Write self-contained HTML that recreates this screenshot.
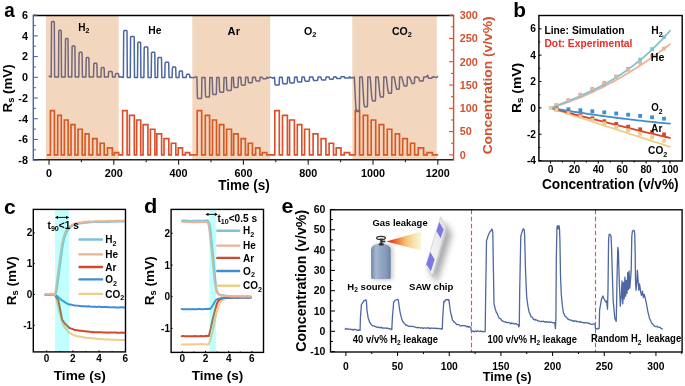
<!DOCTYPE html>
<html><head><meta charset="utf-8"><style>
html,body{margin:0;padding:0;background:#fff;overflow:hidden}
svg{display:block;filter:blur(0.3px)}
text{font-family:"Liberation Sans", sans-serif}
</style></head><body>
<svg width="685" height="386" viewBox="0 0 685 386">
<rect width="685" height="386" fill="#fff"/>
<defs><clipPath id="ca"><rect x="33.3" y="15.5" width="420.3" height="144.3"/></clipPath></defs>
<polyline points="47.50,154.90 50.40,154.90 50.40,110.65 54.40,110.65 54.40,154.90 57.70,154.90 57.70,115.31 61.30,115.31 61.30,154.90 64.40,154.90 64.40,119.97 68.10,119.97 68.10,154.90 71.00,154.90 71.00,124.62 75.00,124.62 75.00,154.90 78.00,154.90 78.00,129.28 82.20,129.28 82.20,154.90 85.10,154.90 85.10,133.94 89.00,133.94 89.00,154.90 92.70,154.90 92.70,138.60 97.00,138.60 97.00,154.90 100.20,154.90 100.20,143.25 104.20,143.25 104.20,154.90 107.50,154.90 107.50,147.91 112.30,147.91 112.30,154.90 114.40,154.90 114.40,152.57 118.70,152.57 118.70,154.90 122.60,154.90 122.60,110.65 127.10,110.65 127.10,154.90 129.50,154.90 129.50,115.31 134.30,115.31 134.30,154.90 136.70,154.90 136.70,119.97 140.70,119.97 140.70,154.90 143.10,154.90 143.10,124.62 147.90,124.62 147.90,154.90 150.40,154.90 150.40,129.28 154.90,129.28 154.90,154.90 156.80,154.90 156.80,133.94 161.60,133.94 161.60,154.90 164.00,154.90 164.00,138.60 168.80,138.60 168.80,154.90 171.30,154.90 171.30,143.25 175.80,143.25 175.80,154.90 178.20,154.90 178.20,147.91 182.50,147.91 182.50,154.90 185.40,154.90 185.40,152.57 189.70,152.57 189.70,154.90 197.20,154.90 197.20,110.65 201.70,110.65 201.70,154.90 205.30,154.90 205.30,115.31 209.60,115.31 209.60,154.90 212.50,154.90 212.50,119.97 216.50,119.97 216.50,154.90 219.40,154.90 219.40,124.62 223.80,124.62 223.80,154.90 226.60,154.90 226.60,129.28 231.50,129.28 231.50,154.90 233.70,154.90 233.70,133.94 238.20,133.94 238.20,154.90 241.10,154.90 241.10,138.60 245.40,138.60 245.40,154.90 248.20,154.90 248.20,143.25 252.40,143.25 252.40,154.90 255.60,154.90 255.60,147.91 259.90,147.91 259.90,154.90 262.30,154.90 262.30,152.57 266.80,152.57 266.80,154.90 274.80,154.90 274.80,110.65 279.30,110.65 279.30,154.90 282.50,154.90 282.50,115.31 287.40,115.31 287.40,154.90 289.60,154.90 289.60,119.97 294.40,119.97 294.40,154.90 297.30,154.90 297.30,124.62 301.80,124.62 301.80,154.90 304.60,154.90 304.60,129.28 309.40,129.28 309.40,154.90 313.10,154.90 313.10,133.94 317.90,133.94 317.90,154.90 321.10,154.90 321.10,138.60 325.90,138.60 325.90,154.90 329.10,154.90 329.10,143.25 333.50,143.25 333.50,154.90 336.20,154.90 336.20,147.91 341.00,147.91 341.00,154.90 344.30,154.90 344.30,152.57 349.60,152.57 349.60,154.90 355.30,154.90 355.30,110.65 359.60,110.65 359.60,154.90 363.30,154.90 363.30,115.31 367.70,115.31 367.70,154.90 371.20,154.90 371.20,119.97 375.70,119.97 375.70,154.90 379.20,154.90 379.20,124.62 383.70,124.62 383.70,154.90 387.30,154.90 387.30,129.28 391.80,129.28 391.80,154.90 395.30,154.90 395.30,133.94 399.50,133.94 399.50,154.90 402.70,154.90 402.70,138.60 407.30,138.60 407.30,154.90 410.50,154.90 410.50,143.25 414.60,143.25 414.60,154.90 418.20,154.90 418.20,147.91 423.60,147.91 423.60,154.90 427.10,154.90 427.10,152.57 432.40,152.57 432.40,154.90 437.50,154.90" fill="none" stroke="#dc4f28" stroke-width="1.65" stroke-linejoin="miter" stroke-linecap="round" />
<g clip-path="url(#ca)">
<polyline points="49.20,76.20 50.50,77.00 51.20,77.00 51.50,22.50 51.90,21.60 54.00,21.60 54.30,22.50 54.60,77.00 58.50,77.00 58.80,31.20 59.20,30.30 60.90,30.30 61.20,31.20 61.50,77.00 65.20,77.00 65.50,39.30 65.90,38.40 67.70,38.40 68.00,39.30 68.30,77.00 71.80,77.00 72.10,46.80 72.50,45.90 74.60,45.90 74.90,46.80 75.20,77.00 78.80,77.00 79.10,53.20 79.50,52.30 81.80,52.30 82.10,53.20 82.40,77.00 85.90,77.00 86.20,58.40 86.60,57.50 88.60,57.50 88.90,58.40 89.20,77.00 93.50,77.00 93.80,64.10 94.20,63.20 96.60,63.20 96.90,64.10 97.20,77.00 101.00,77.00 101.30,68.40 101.70,67.50 103.80,67.50 104.10,68.40 104.40,77.00 108.30,77.00 108.60,72.30 109.00,71.40 111.90,71.40 112.20,72.30 112.50,77.00 115.20,77.00 115.50,74.50 115.90,73.60 118.30,73.60 118.60,74.50 118.90,77.00 119.90,76.69 121.40,77.05 123.40,77.50 123.70,31.50 124.10,30.60 126.70,30.60 127.00,31.50 127.30,77.50 130.30,77.50 130.60,37.30 131.00,36.40 133.90,36.40 134.20,37.30 134.50,77.50 137.50,77.50 137.80,43.10 138.20,42.20 140.30,42.20 140.60,43.10 140.90,77.50 143.90,77.50 144.20,48.00 144.60,47.10 147.50,47.10 147.80,48.00 148.10,77.50 151.20,77.50 151.50,53.20 151.90,52.30 154.50,52.30 154.80,53.20 155.10,77.50 157.60,77.50 157.90,58.30 158.30,57.40 161.20,57.40 161.50,58.30 161.80,77.50 164.80,77.50 165.10,63.10 165.50,62.20 168.40,62.20 168.70,63.10 169.00,77.50 172.10,77.50 172.40,68.00 172.80,67.10 175.40,67.10 175.70,68.00 176.00,77.50 179.00,77.50 179.30,71.90 179.70,71.00 182.10,71.00 182.40,71.90 182.70,77.50 186.20,77.50 186.50,75.20 186.90,74.30 189.30,74.30 189.60,75.20 189.90,77.50 190.90,77.34 192.40,77.62 193.90,77.65 195.40,76.98 196.90,76.92 196.90,77.60 197.40,97.60 198.00,98.60 201.20,98.60 201.60,97.70 201.90,77.60 205.00,77.55 205.50,96.10 206.10,97.10 209.10,97.10 209.50,96.20 209.80,77.55 212.20,77.50 212.70,93.50 213.30,94.50 216.00,94.50 216.40,93.60 216.70,77.50 219.10,77.45 219.60,91.20 220.20,92.20 223.30,92.20 223.70,91.30 224.00,77.45 226.30,77.40 226.80,89.40 227.40,90.40 231.00,90.40 231.40,89.50 231.70,77.40 233.40,77.35 233.90,86.50 234.50,87.50 237.70,87.50 238.10,86.60 238.40,77.35 240.80,77.30 241.30,84.20 241.90,85.20 244.90,85.20 245.30,84.30 245.60,77.30 247.90,77.25 248.40,81.80 249.00,82.80 251.90,82.80 252.30,81.90 252.60,77.25 255.30,77.20 255.80,80.10 256.40,81.10 259.40,81.10 259.80,80.20 260.10,77.20 262.00,77.15 262.50,77.80 263.10,78.80 266.30,78.80 266.70,77.90 267.00,77.15 268.00,78.00 269.50,77.31 271.00,77.28 272.50,78.19 274.00,77.56 274.50,77.30 275.00,84.10 275.60,85.10 278.80,85.10 279.20,84.20 279.50,77.30 282.20,77.24 282.70,82.80 283.30,83.80 286.90,83.80 287.30,82.90 287.60,77.24 289.30,77.18 289.80,81.90 290.40,82.90 293.90,82.90 294.30,82.00 294.60,77.18 297.00,77.12 297.50,81.10 298.10,82.10 301.30,82.10 301.70,81.20 302.00,77.12 304.30,77.06 304.80,80.20 305.40,81.20 308.90,81.20 309.30,80.30 309.60,77.06 312.80,77.00 313.30,79.50 313.90,80.50 317.40,80.50 317.80,79.60 318.10,77.00 320.80,76.94 321.30,78.90 321.90,79.90 325.40,79.90 325.80,79.00 326.10,76.94 328.80,76.88 329.30,78.20 329.90,79.20 333.00,79.20 333.40,78.30 333.70,76.88 335.90,76.82 336.40,77.50 337.00,78.50 340.50,78.50 340.90,77.60 341.20,76.82 344.00,76.76 344.50,77.00 345.10,78.00 349.10,78.00 349.50,77.10 349.80,76.76 350.80,77.90 352.30,77.47 353.80,77.67 354.30,77.10 355.90,108.50 356.70,111.50 359.00,111.50 359.40,110.30 359.70,77.10 362.30,77.10 363.90,103.70 364.70,106.70 367.10,106.70 367.50,105.50 367.80,77.10 370.20,77.10 371.80,97.90 372.60,100.90 375.10,100.90 375.50,99.70 375.80,77.10 378.20,77.10 379.80,94.00 380.60,97.00 383.10,97.00 383.50,95.80 383.80,77.10 386.30,77.10 387.90,90.30 388.70,93.30 391.20,93.30 391.60,92.10 391.90,77.10 394.30,77.10 395.90,86.30 396.70,89.30 398.90,89.30 399.30,88.10 399.60,77.10 401.70,77.10 403.30,82.90 404.10,85.90 406.70,85.90 407.10,84.70 407.40,77.10 409.50,77.10 411.10,80.60 411.90,83.60 414.00,83.60 414.40,82.40 414.70,77.10 417.20,77.10 418.80,77.90 419.60,80.90 423.00,80.90 423.40,79.70 423.70,77.10 426.10,77.10 427.70,75.30 428.50,78.30 431.80,78.30 432.20,77.10 432.50,77.10 433.60,76.68 435.10,77.26 436.60,77.54 437.50,76.60" fill="none" stroke="#4a66a3" stroke-width="1.5" stroke-linejoin="round" stroke-linecap="round" />
</g>
<rect x="46.0" y="15.5" width="72.7" height="144.3" fill="rgba(212,108,23,0.28)"/>
<rect x="192.3" y="15.5" width="77.9" height="144.3" fill="rgba(212,108,23,0.28)"/>
<rect x="352.3" y="15.5" width="84.5" height="144.3" fill="rgba(212,108,23,0.28)"/>
<text x="78.15" y="30.90" font-size="11.2" font-weight="bold" fill="#000" textLength="11.14" lengthAdjust="spacingAndGlyphs" >H<tspan font-size="7.84" dy="2.46">2</tspan></text>
<text x="148.23" y="33.80" font-size="11.2" font-weight="bold" fill="#000" textLength="13.16" lengthAdjust="spacingAndGlyphs" >He</text>
<text x="227.62" y="34.70" font-size="11.2" font-weight="bold" fill="#000" textLength="12.36" lengthAdjust="spacingAndGlyphs" >Ar</text>
<text x="303.97" y="34.60" font-size="11.2" font-weight="bold" fill="#000" textLength="12.43" lengthAdjust="spacingAndGlyphs" >O<tspan font-size="7.84" dy="2.46">2</tspan></text>
<text x="391.98" y="34.80" font-size="11.2" font-weight="bold" fill="#000" textLength="19.93" lengthAdjust="spacingAndGlyphs" >CO<tspan font-size="7.84" dy="2.46">2</tspan></text>
<line x1="33.30" y1="15.50" x2="453.60" y2="15.50" stroke="#000" stroke-width="1.45" />
<line x1="33.30" y1="159.80" x2="453.60" y2="159.80" stroke="#222" stroke-width="1.45" />
<line x1="33.30" y1="14.80" x2="33.30" y2="160.50" stroke="#4a66a3" stroke-width="1.4" />
<line x1="453.60" y1="14.80" x2="453.60" y2="160.50" stroke="#d4502c" stroke-width="1.4" />
<line x1="33.30" y1="160.18" x2="37.80" y2="160.18" stroke="#4a66a3" stroke-width="1.1" />
<text x="27.9" y="163.98000000000002" font-size="10.8" font-weight="bold" fill="#000" text-anchor="end" >-8</text>
<line x1="33.30" y1="149.82" x2="35.80" y2="149.82" stroke="#4a66a3" stroke-width="1.1" />
<line x1="33.30" y1="139.46" x2="37.80" y2="139.46" stroke="#4a66a3" stroke-width="1.1" />
<text x="27.9" y="143.26" font-size="10.8" font-weight="bold" fill="#000" text-anchor="end" >-6</text>
<line x1="33.30" y1="129.10" x2="35.80" y2="129.10" stroke="#4a66a3" stroke-width="1.1" />
<line x1="33.30" y1="118.74" x2="37.80" y2="118.74" stroke="#4a66a3" stroke-width="1.1" />
<text x="27.9" y="122.53999999999999" font-size="10.8" font-weight="bold" fill="#000" text-anchor="end" >-4</text>
<line x1="33.30" y1="108.38" x2="35.80" y2="108.38" stroke="#4a66a3" stroke-width="1.1" />
<line x1="33.30" y1="98.02" x2="37.80" y2="98.02" stroke="#4a66a3" stroke-width="1.1" />
<text x="27.9" y="101.82" font-size="10.8" font-weight="bold" fill="#000" text-anchor="end" >-2</text>
<line x1="33.30" y1="87.66" x2="35.80" y2="87.66" stroke="#4a66a3" stroke-width="1.1" />
<line x1="33.30" y1="77.30" x2="37.80" y2="77.30" stroke="#4a66a3" stroke-width="1.1" />
<text x="27.9" y="81.1" font-size="10.8" font-weight="bold" fill="#000" text-anchor="end" >0</text>
<line x1="33.30" y1="66.94" x2="35.80" y2="66.94" stroke="#4a66a3" stroke-width="1.1" />
<line x1="33.30" y1="56.58" x2="37.80" y2="56.58" stroke="#4a66a3" stroke-width="1.1" />
<text x="27.9" y="60.379999999999995" font-size="10.8" font-weight="bold" fill="#000" text-anchor="end" >2</text>
<line x1="33.30" y1="46.22" x2="35.80" y2="46.22" stroke="#4a66a3" stroke-width="1.1" />
<line x1="33.30" y1="35.86" x2="37.80" y2="35.86" stroke="#4a66a3" stroke-width="1.1" />
<text x="27.9" y="39.66" font-size="10.8" font-weight="bold" fill="#000" text-anchor="end" >4</text>
<line x1="33.30" y1="25.50" x2="35.80" y2="25.50" stroke="#4a66a3" stroke-width="1.1" />
<line x1="33.30" y1="15.14" x2="37.80" y2="15.14" stroke="#4a66a3" stroke-width="1.1" />
<text x="27.9" y="18.94" font-size="10.8" font-weight="bold" fill="#000" text-anchor="end" >6</text>
<line x1="449.10" y1="154.90" x2="453.60" y2="154.90" stroke="#d4502c" stroke-width="1.1" />
<text x="459.7" y="158.70000000000002" font-size="10.8" font-weight="bold" fill="#d4502c" text-anchor="start" >0</text>
<line x1="451.10" y1="143.25" x2="453.60" y2="143.25" stroke="#d4502c" stroke-width="1.1" />
<line x1="449.10" y1="131.61" x2="453.60" y2="131.61" stroke="#d4502c" stroke-width="1.1" />
<text x="459.7" y="135.41000000000003" font-size="10.8" font-weight="bold" fill="#d4502c" text-anchor="start" >50</text>
<line x1="451.10" y1="119.97" x2="453.60" y2="119.97" stroke="#d4502c" stroke-width="1.1" />
<line x1="449.10" y1="108.32" x2="453.60" y2="108.32" stroke="#d4502c" stroke-width="1.1" />
<text x="459.7" y="112.12" font-size="10.8" font-weight="bold" fill="#d4502c" text-anchor="start" >100</text>
<line x1="451.10" y1="96.68" x2="453.60" y2="96.68" stroke="#d4502c" stroke-width="1.1" />
<line x1="449.10" y1="85.03" x2="453.60" y2="85.03" stroke="#d4502c" stroke-width="1.1" />
<text x="459.7" y="88.83" font-size="10.8" font-weight="bold" fill="#d4502c" text-anchor="start" >150</text>
<line x1="451.10" y1="73.39" x2="453.60" y2="73.39" stroke="#d4502c" stroke-width="1.1" />
<line x1="449.10" y1="61.74" x2="453.60" y2="61.74" stroke="#d4502c" stroke-width="1.1" />
<text x="459.7" y="65.54" font-size="10.8" font-weight="bold" fill="#d4502c" text-anchor="start" >200</text>
<line x1="451.10" y1="50.10" x2="453.60" y2="50.10" stroke="#d4502c" stroke-width="1.1" />
<line x1="449.10" y1="38.45" x2="453.60" y2="38.45" stroke="#d4502c" stroke-width="1.1" />
<text x="459.7" y="42.25" font-size="10.8" font-weight="bold" fill="#d4502c" text-anchor="start" >250</text>
<line x1="451.10" y1="26.81" x2="453.60" y2="26.81" stroke="#d4502c" stroke-width="1.1" />
<line x1="449.10" y1="15.16" x2="453.60" y2="15.16" stroke="#d4502c" stroke-width="1.1" />
<text x="459.7" y="18.959999999999997" font-size="10.8" font-weight="bold" fill="#d4502c" text-anchor="start" >300</text>
<line x1="49.00" y1="159.80" x2="49.00" y2="164.80" stroke="#222" stroke-width="1.1" />
<text x="49.0" y="177.3" font-size="10.8" font-weight="bold" fill="#000" text-anchor="middle" >0</text>
<line x1="81.40" y1="159.80" x2="81.40" y2="162.30" stroke="#222" stroke-width="1.1" />
<line x1="113.80" y1="159.80" x2="113.80" y2="164.80" stroke="#222" stroke-width="1.1" />
<text x="113.8" y="177.3" font-size="10.8" font-weight="bold" fill="#000" text-anchor="middle" >200</text>
<line x1="146.20" y1="159.80" x2="146.20" y2="162.30" stroke="#222" stroke-width="1.1" />
<line x1="178.60" y1="159.80" x2="178.60" y2="164.80" stroke="#222" stroke-width="1.1" />
<text x="178.6" y="177.3" font-size="10.8" font-weight="bold" fill="#000" text-anchor="middle" >400</text>
<line x1="211.00" y1="159.80" x2="211.00" y2="162.30" stroke="#222" stroke-width="1.1" />
<line x1="243.40" y1="159.80" x2="243.40" y2="164.80" stroke="#222" stroke-width="1.1" />
<text x="243.4" y="177.3" font-size="10.8" font-weight="bold" fill="#000" text-anchor="middle" >600</text>
<line x1="275.80" y1="159.80" x2="275.80" y2="162.30" stroke="#222" stroke-width="1.1" />
<line x1="308.20" y1="159.80" x2="308.20" y2="164.80" stroke="#222" stroke-width="1.1" />
<text x="308.2" y="177.3" font-size="10.8" font-weight="bold" fill="#000" text-anchor="middle" >800</text>
<line x1="340.60" y1="159.80" x2="340.60" y2="162.30" stroke="#222" stroke-width="1.1" />
<line x1="373.00" y1="159.80" x2="373.00" y2="164.80" stroke="#222" stroke-width="1.1" />
<text x="373.0" y="177.3" font-size="10.8" font-weight="bold" fill="#000" text-anchor="middle" >1000</text>
<line x1="405.40" y1="159.80" x2="405.40" y2="162.30" stroke="#222" stroke-width="1.1" />
<line x1="437.80" y1="159.80" x2="437.80" y2="164.80" stroke="#222" stroke-width="1.1" />
<text x="437.8" y="177.3" font-size="10.8" font-weight="bold" fill="#000" text-anchor="middle" >1200</text>
<text x="218.26" y="190.00" font-size="13.9" font-weight="bold" fill="#000" textLength="51.56" lengthAdjust="spacingAndGlyphs" >Time (s)</text>
<text transform="translate(11.50,112.47) rotate(-90)" x="0" y="0" font-size="13.0" font-weight="bold" fill="#000" textLength="48.13" lengthAdjust="spacingAndGlyphs">R<tspan font-size="9.10" dy="2.86">s</tspan><tspan dy="-2.86"> (mV)</tspan></text>
<text transform="translate(492.40,154.35) rotate(-90)" x="0" y="0" font-size="13.7" font-weight="bold" fill="#d4502c" textLength="137.99" lengthAdjust="spacingAndGlyphs">Concentration (v/v%)</text>
<text x="4.33" y="16.50" font-size="20.5" font-weight="bold" fill="#000" textLength="10.49" lengthAdjust="spacingAndGlyphs" >a</text>
<polyline points="550.50,107.90 553.49,108.89 556.48,109.88 559.46,110.86 562.45,111.85 565.44,112.83 568.42,113.82 571.41,114.80 574.40,115.78 577.39,116.76 580.38,117.74 583.36,118.72 586.35,119.70 589.34,120.68 592.33,121.66 595.31,122.63 598.30,123.61 601.29,124.59 604.27,125.56 607.26,126.53 610.25,127.51 613.24,128.48 616.23,129.45 619.21,130.42 622.20,131.39 625.19,132.36 628.17,133.32 631.16,134.29 634.15,135.26 637.14,136.22 640.12,137.18 643.11,138.15 646.10,139.11 649.09,140.07 652.08,141.03 655.06,141.99 658.05,142.95 661.04,143.91 664.02,144.87 667.01,145.83 670.00,146.78" fill="none" stroke="#eecd88" stroke-width="1.8" stroke-linejoin="round" stroke-linecap="round" />
<polyline points="550.50,107.90 553.49,108.71 556.48,109.51 559.46,110.31 562.45,111.11 565.44,111.90 568.42,112.69 571.41,113.48 574.40,114.27 577.39,115.05 580.38,115.83 583.36,116.61 586.35,117.39 589.34,118.16 592.33,118.93 595.31,119.69 598.30,120.46 601.29,121.22 604.27,121.98 607.26,122.73 610.25,123.49 613.24,124.24 616.23,124.98 619.21,125.73 622.20,126.47 625.19,127.21 628.17,127.94 631.16,128.68 634.15,129.41 637.14,130.13 640.12,130.86 643.11,131.58 646.10,132.30 649.09,133.02 652.08,133.73 655.06,134.44 658.05,135.15 661.04,135.85 664.02,136.55 667.01,137.25 670.00,137.95" fill="none" stroke="#d5472c" stroke-width="1.8" stroke-linejoin="round" stroke-linecap="round" />
<polyline points="550.50,107.90 553.49,108.41 556.48,108.91 559.46,109.41 562.45,109.90 565.44,110.38 568.42,110.86 571.41,111.33 574.40,111.80 577.39,112.26 580.38,112.72 583.36,113.17 586.35,113.61 589.34,114.05 592.33,114.49 595.31,114.91 598.30,115.33 601.29,115.75 604.27,116.16 607.26,116.56 610.25,116.96 613.24,117.35 616.23,117.74 619.21,118.12 622.20,118.50 625.19,118.87 628.17,119.23 631.16,119.59 634.15,119.94 637.14,120.29 640.12,120.63 643.11,120.96 646.10,121.29 649.09,121.61 652.08,121.93 655.06,122.24 658.05,122.55 661.04,122.85 664.02,123.14 667.01,123.43 670.00,123.72" fill="none" stroke="#3f8ed3" stroke-width="1.8" stroke-linejoin="round" stroke-linecap="round" />
<polyline points="550.50,107.90 553.49,107.01 556.48,106.08 559.46,105.12 562.45,104.12 565.44,103.08 568.42,102.01 571.41,100.90 574.40,99.76 577.39,98.58 580.38,97.36 583.36,96.11 586.35,94.82 589.34,93.50 592.33,92.14 595.31,90.74 598.30,89.31 601.29,87.84 604.27,86.34 607.26,84.80 610.25,83.22 613.24,81.61 616.23,79.96 619.21,78.28 622.20,76.56 625.19,74.80 628.17,73.01 631.16,71.18 634.15,69.32 637.14,67.42 640.12,65.48 643.11,63.51 646.10,61.50 649.09,59.46 652.08,57.38 655.06,55.26 658.05,53.11 661.04,50.92 664.02,48.69 667.01,46.43 670.00,44.14" fill="none" stroke="#eab398" stroke-width="1.8" stroke-linejoin="round" stroke-linecap="round" />
<polyline points="550.50,107.90 553.49,106.78 556.48,105.64 559.46,104.50 562.45,103.35 565.44,102.17 568.42,100.99 571.41,99.78 574.40,98.54 577.39,97.28 580.38,96.00 583.36,94.68 586.35,93.32 589.34,91.93 592.33,90.50 595.31,89.03 598.30,87.52 601.29,85.95 604.27,84.34 607.26,82.67 610.25,80.95 613.24,79.17 616.23,77.33 619.21,75.42 622.20,73.45 625.19,71.41 628.17,69.30 631.16,67.12 634.15,64.86 637.14,62.52 640.12,60.09 643.11,57.59 646.10,54.99 649.09,52.31 652.08,49.53 655.06,46.65 658.05,43.68 661.04,40.61 664.02,37.44 667.01,34.16 670.00,30.77" fill="none" stroke="#7fc3d3" stroke-width="1.8" stroke-linejoin="round" stroke-linecap="round" />
<rect x="554.58" y="103.34" width="3.8" height="3.8" fill="#7fc3d3"/>
<rect x="566.52" y="98.69" width="3.8" height="3.8" fill="#7fc3d3"/>
<rect x="578.48" y="93.70" width="3.8" height="3.8" fill="#7fc3d3"/>
<rect x="590.43" y="88.20" width="3.8" height="3.8" fill="#7fc3d3"/>
<rect x="602.38" y="82.04" width="3.8" height="3.8" fill="#7fc3d3"/>
<rect x="614.33" y="75.03" width="3.8" height="3.8" fill="#7fc3d3"/>
<rect x="626.27" y="67.00" width="3.8" height="3.8" fill="#7fc3d3"/>
<rect x="638.23" y="57.79" width="3.8" height="3.8" fill="#7fc3d3"/>
<rect x="650.18" y="47.23" width="3.8" height="3.8" fill="#7fc3d3"/>
<rect x="662.12" y="35.14" width="3.8" height="3.8" fill="#7fc3d3"/>
<rect x="554.58" y="103.46" width="3.8" height="3.8" fill="#eab398"/>
<rect x="566.52" y="98.19" width="3.8" height="3.8" fill="#eab398"/>
<rect x="578.48" y="92.66" width="3.8" height="3.8" fill="#eab398"/>
<rect x="590.43" y="86.86" width="3.8" height="3.8" fill="#eab398"/>
<rect x="602.38" y="80.79" width="3.8" height="3.8" fill="#eab398"/>
<rect x="614.33" y="74.47" width="3.8" height="3.8" fill="#eab398"/>
<rect x="626.27" y="67.88" width="3.8" height="3.8" fill="#eab398"/>
<rect x="638.23" y="61.02" width="3.8" height="3.8" fill="#eab398"/>
<rect x="650.18" y="53.91" width="3.8" height="3.8" fill="#eab398"/>
<rect x="662.12" y="46.53" width="3.8" height="3.8" fill="#eab398"/>
<rect x="554.58" y="106.44" width="3.8" height="3.8" fill="#3f8ed3"/>
<rect x="566.52" y="107.35" width="3.8" height="3.8" fill="#3f8ed3"/>
<rect x="578.48" y="108.32" width="3.8" height="3.8" fill="#3f8ed3"/>
<rect x="590.43" y="109.35" width="3.8" height="3.8" fill="#3f8ed3"/>
<rect x="602.38" y="110.44" width="3.8" height="3.8" fill="#3f8ed3"/>
<rect x="614.33" y="111.59" width="3.8" height="3.8" fill="#3f8ed3"/>
<rect x="626.27" y="112.79" width="3.8" height="3.8" fill="#3f8ed3"/>
<rect x="638.23" y="114.06" width="3.8" height="3.8" fill="#3f8ed3"/>
<rect x="650.18" y="115.38" width="3.8" height="3.8" fill="#3f8ed3"/>
<rect x="662.12" y="116.76" width="3.8" height="3.8" fill="#3f8ed3"/>
<rect x="554.58" y="107.54" width="3.8" height="3.8" fill="#d5472c"/>
<rect x="566.52" y="110.57" width="3.8" height="3.8" fill="#d5472c"/>
<rect x="578.48" y="113.54" width="3.8" height="3.8" fill="#d5472c"/>
<rect x="590.43" y="116.44" width="3.8" height="3.8" fill="#d5472c"/>
<rect x="602.38" y="119.27" width="3.8" height="3.8" fill="#d5472c"/>
<rect x="614.33" y="122.04" width="3.8" height="3.8" fill="#d5472c"/>
<rect x="626.27" y="124.74" width="3.8" height="3.8" fill="#d5472c"/>
<rect x="638.23" y="127.38" width="3.8" height="3.8" fill="#d5472c"/>
<rect x="650.18" y="129.95" width="3.8" height="3.8" fill="#d5472c"/>
<rect x="662.12" y="132.45" width="3.8" height="3.8" fill="#d5472c"/>
<rect x="554.58" y="107.73" width="3.8" height="3.8" fill="#eecd88"/>
<rect x="566.52" y="111.18" width="3.8" height="3.8" fill="#eecd88"/>
<rect x="578.48" y="114.63" width="3.8" height="3.8" fill="#eecd88"/>
<rect x="590.43" y="118.09" width="3.8" height="3.8" fill="#eecd88"/>
<rect x="602.38" y="121.54" width="3.8" height="3.8" fill="#eecd88"/>
<rect x="614.33" y="124.99" width="3.8" height="3.8" fill="#eecd88"/>
<rect x="626.27" y="128.45" width="3.8" height="3.8" fill="#eecd88"/>
<rect x="638.23" y="131.90" width="3.8" height="3.8" fill="#eecd88"/>
<rect x="650.18" y="135.35" width="3.8" height="3.8" fill="#eecd88"/>
<rect x="662.12" y="138.81" width="3.8" height="3.8" fill="#eecd88"/>
<rect x="548.70" y="106.10" width="3.6" height="3.6" fill="#eecd88"/>
<rect x="538.9" y="15.5" width="143.3" height="145.5" fill="none" stroke="#000" stroke-width="1.4"/>
<line x1="538.90" y1="160.62" x2="541.50" y2="160.62" stroke="#000" stroke-width="1.0" />
<text x="536.0" y="164.22" font-size="10.2" font-weight="bold" fill="#000" text-anchor="end" >-4</text>
<line x1="538.90" y1="147.44" x2="540.20" y2="147.44" stroke="#000" stroke-width="1.0" />
<line x1="538.90" y1="134.26" x2="541.50" y2="134.26" stroke="#000" stroke-width="1.0" />
<text x="536.0" y="137.85999999999999" font-size="10.2" font-weight="bold" fill="#000" text-anchor="end" >-2</text>
<line x1="538.90" y1="121.08" x2="540.20" y2="121.08" stroke="#000" stroke-width="1.0" />
<line x1="538.90" y1="107.90" x2="541.50" y2="107.90" stroke="#000" stroke-width="1.0" />
<text x="536.0" y="111.5" font-size="10.2" font-weight="bold" fill="#000" text-anchor="end" >0</text>
<line x1="538.90" y1="94.72" x2="540.20" y2="94.72" stroke="#000" stroke-width="1.0" />
<line x1="538.90" y1="81.54" x2="541.50" y2="81.54" stroke="#000" stroke-width="1.0" />
<text x="536.0" y="85.14" font-size="10.2" font-weight="bold" fill="#000" text-anchor="end" >2</text>
<line x1="538.90" y1="68.36" x2="540.20" y2="68.36" stroke="#000" stroke-width="1.0" />
<line x1="538.90" y1="55.18" x2="541.50" y2="55.18" stroke="#000" stroke-width="1.0" />
<text x="536.0" y="58.78000000000001" font-size="10.2" font-weight="bold" fill="#000" text-anchor="end" >4</text>
<line x1="538.90" y1="42.00" x2="540.20" y2="42.00" stroke="#000" stroke-width="1.0" />
<line x1="538.90" y1="28.82" x2="541.50" y2="28.82" stroke="#000" stroke-width="1.0" />
<text x="536.0" y="32.42000000000001" font-size="10.2" font-weight="bold" fill="#000" text-anchor="end" >6</text>
<line x1="550.50" y1="161.00" x2="550.50" y2="163.60" stroke="#000" stroke-width="1.0" />
<text x="550.5" y="173.2" font-size="10.2" font-weight="bold" fill="#000" text-anchor="middle" >0</text>
<line x1="562.45" y1="161.00" x2="562.45" y2="162.50" stroke="#000" stroke-width="1.0" />
<line x1="574.40" y1="161.00" x2="574.40" y2="163.60" stroke="#000" stroke-width="1.0" />
<text x="574.4" y="173.2" font-size="10.2" font-weight="bold" fill="#000" text-anchor="middle" >20</text>
<line x1="586.35" y1="161.00" x2="586.35" y2="162.50" stroke="#000" stroke-width="1.0" />
<line x1="598.30" y1="161.00" x2="598.30" y2="163.60" stroke="#000" stroke-width="1.0" />
<text x="598.3" y="173.2" font-size="10.2" font-weight="bold" fill="#000" text-anchor="middle" >40</text>
<line x1="610.25" y1="161.00" x2="610.25" y2="162.50" stroke="#000" stroke-width="1.0" />
<line x1="622.20" y1="161.00" x2="622.20" y2="163.60" stroke="#000" stroke-width="1.0" />
<text x="622.2" y="173.2" font-size="10.2" font-weight="bold" fill="#000" text-anchor="middle" >60</text>
<line x1="634.15" y1="161.00" x2="634.15" y2="162.50" stroke="#000" stroke-width="1.0" />
<line x1="646.10" y1="161.00" x2="646.10" y2="163.60" stroke="#000" stroke-width="1.0" />
<text x="646.1" y="173.2" font-size="10.2" font-weight="bold" fill="#000" text-anchor="middle" >80</text>
<line x1="658.05" y1="161.00" x2="658.05" y2="162.50" stroke="#000" stroke-width="1.0" />
<line x1="670.00" y1="161.00" x2="670.00" y2="163.60" stroke="#000" stroke-width="1.0" />
<text x="670.0" y="173.2" font-size="10.2" font-weight="bold" fill="#000" text-anchor="middle" >100</text>
<text x="541.95" y="188.60" font-size="14.0" font-weight="bold" fill="#000" textLength="136.68" lengthAdjust="spacingAndGlyphs" >Concentration (v/v%)</text>
<text transform="translate(520.50,113.00) rotate(-90)" x="0" y="0" font-size="12.5" font-weight="bold" fill="#000" textLength="50.20" lengthAdjust="spacingAndGlyphs">R<tspan font-size="8.75" dy="2.75">s</tspan><tspan dy="-2.75"> (mV)</tspan></text>
<text x="544.43" y="34.40" font-size="10.6" font-weight="bold" fill="#000" textLength="80.12" lengthAdjust="spacingAndGlyphs" >Line: Simulation</text>
<text x="544.43" y="46.80" font-size="10.6" font-weight="bold" fill="#ee2a24" textLength="88.01" lengthAdjust="spacingAndGlyphs" >Dot: Experimental</text>
<text x="651.33" y="34.30" font-size="10.5" font-weight="bold" fill="#000" textLength="11.47" lengthAdjust="spacingAndGlyphs" >H<tspan font-size="7.35" dy="2.31">2</tspan></text>
<text x="650.71" y="61.30" font-size="10.5" font-weight="bold" fill="#000" textLength="13.60" lengthAdjust="spacingAndGlyphs" >He</text>
<text x="651.21" y="111.20" font-size="10.5" font-weight="bold" fill="#000" textLength="11.26" lengthAdjust="spacingAndGlyphs" >O<tspan font-size="7.35" dy="2.31">2</tspan></text>
<text x="651.05" y="131.90" font-size="10.5" font-weight="bold" fill="#000" textLength="11.32" lengthAdjust="spacingAndGlyphs" >Ar</text>
<text x="648.10" y="154.40" font-size="10.5" font-weight="bold" fill="#000" textLength="19.10" lengthAdjust="spacingAndGlyphs" >CO<tspan font-size="7.35" dy="2.31">2</tspan></text>
<text x="513.15" y="16.70" font-size="20.5" font-weight="bold" fill="#000" textLength="12.70" lengthAdjust="spacingAndGlyphs" >b</text>
<clipPath id="cc"><rect x="33.3" y="209.4" width="92.2" height="142.5"/></clipPath>
<g clip-path="url(#cc)">
<polyline points="45.50,294.41 47.13,294.53 48.77,294.54 50.40,294.33 52.03,294.64 53.67,294.60 55.30,294.52 57.30,303.11 59.20,311.65 61.20,318.89 63.00,324.09 65.00,327.75 67.00,330.14 69.00,332.67 71.00,333.61 73.00,334.92 74.57,335.28 76.13,335.97 77.70,336.45 79.53,336.44 81.35,336.75 83.17,337.09 85.00,337.69 86.58,337.67 88.15,337.95 89.72,338.02 91.30,338.30 92.82,338.37 94.34,338.46 95.87,338.67 97.39,338.78 98.91,339.02 100.43,339.04 101.96,339.25 103.48,339.33 105.00,339.50 106.54,339.43 108.07,339.29 109.61,339.64 111.14,339.74 112.68,339.78 114.21,339.71 115.75,339.84 117.29,339.70 118.82,340.01 120.36,339.97 121.89,339.92 123.43,339.90 124.96,340.28 126.50,340.20" fill="none" stroke="#eecd88" stroke-width="2.0" stroke-linejoin="round" stroke-linecap="round" />
<polyline points="45.50,295.00 47.13,294.70 48.77,295.05 50.40,294.96 52.03,294.93 53.67,295.05 55.30,295.31 56.80,297.95 58.30,300.22 60.50,311.05 62.10,319.62 65.00,323.79 67.00,325.58 69.00,327.75 70.67,328.42 72.35,328.85 74.03,329.67 75.70,330.02 77.53,330.21 79.35,330.69 81.17,330.74 83.00,331.08 84.66,331.32 86.32,331.56 87.98,331.54 89.64,331.66 91.30,332.15 92.82,331.97 94.34,332.27 95.87,332.29 97.39,332.13 98.91,332.21 100.43,332.27 101.96,332.37 103.48,332.39 105.00,332.42 106.54,332.48 108.07,332.63 109.61,332.49 111.14,332.49 112.68,332.63 114.21,332.47 115.75,332.52 117.29,332.82 118.82,332.67 120.36,332.71 121.89,332.52 123.43,332.71 124.96,332.80 126.50,332.80" fill="none" stroke="#d5472c" stroke-width="2.0" stroke-linejoin="round" stroke-linecap="round" />
<polyline points="45.50,294.41 47.13,294.65 48.77,294.65 50.40,294.42 52.03,294.65 53.67,294.59 55.30,294.67 58.00,296.74 60.05,298.68 62.10,300.50 63.80,301.41 65.50,302.62 67.25,303.62 69.00,304.49 70.50,304.50 72.00,304.88 73.50,305.24 75.00,305.43 76.65,305.62 78.30,305.78 79.95,305.97 81.60,306.24 83.27,306.20 84.95,306.30 86.62,306.53 88.30,306.31 89.97,306.60 91.65,306.74 93.33,306.65 95.00,306.69 96.50,306.96 98.00,306.78 99.50,306.79 101.00,306.93 102.50,307.08 104.00,306.88 105.50,307.01 107.00,307.05 108.50,307.29 110.00,307.18 111.50,307.38 113.00,307.14 114.50,307.24 116.00,307.41 117.50,307.54 119.00,307.40 120.50,307.34 122.00,307.34 123.50,307.54 125.00,307.44 126.50,307.60" fill="none" stroke="#3f8ed3" stroke-width="2.0" stroke-linejoin="round" stroke-linecap="round" />
<polyline points="45.50,294.72 47.12,294.77 48.73,294.54 50.35,294.61 51.97,294.86 53.58,294.82 55.20,294.92 56.70,290.64 57.90,281.55 59.30,270.62 60.80,259.82 61.90,251.11 63.00,244.24 64.10,239.27 65.20,235.47 66.80,231.86 68.50,229.07 70.50,226.86 72.90,225.40 74.40,225.13 75.90,224.45 77.70,224.04 79.50,223.37 81.00,223.38 82.50,223.17 84.00,222.69 85.50,222.77 87.00,222.68 88.50,222.49 90.00,222.31 91.67,222.15 93.33,222.10 95.00,221.99 96.67,221.86 98.33,222.00 100.00,221.81 101.67,221.99 103.33,221.65 105.00,221.96 106.67,221.84 108.33,221.90 110.00,221.86 111.50,221.82 113.00,221.66 114.50,221.40 116.00,221.65 117.50,221.39 119.00,221.40 120.50,221.51 122.00,221.42 123.50,221.34 125.00,221.51 126.50,221.30" fill="none" stroke="#7fc3d3" stroke-width="2.0" stroke-linejoin="round" stroke-linecap="round" />
<polyline points="45.50,294.34 47.05,294.29 48.60,294.30 50.15,294.59 51.70,294.49 53.25,294.66 54.80,294.54 55.80,289.88 57.00,281.01 58.40,270.13 59.90,258.87 61.00,250.62 62.10,243.77 63.20,238.72 64.30,234.93 65.90,231.00 67.60,228.25 69.60,226.45 72.00,224.72 73.50,224.16 75.00,223.51 76.80,223.16 78.60,222.67 80.40,222.49 82.20,222.41 84.00,221.90 85.50,221.80 87.00,221.70 88.50,221.57 90.00,221.43 91.67,221.72 93.33,221.61 95.00,221.23 96.67,221.33 98.33,221.19 100.00,221.13 101.67,221.11 103.33,221.19 105.00,221.13 106.67,221.01 108.33,220.91 110.00,220.93 111.50,220.81 113.00,220.95 114.50,220.98 116.00,220.81 117.50,220.65 119.00,220.65 120.50,220.69 122.00,220.75 123.50,220.79 125.00,220.59 126.50,220.60" fill="none" stroke="#eab398" stroke-width="2.0" stroke-linejoin="round" stroke-linecap="round" />
</g>
<rect x="55.0" y="209.4" width="14.1" height="142.5" fill="rgba(0,255,250,0.245)"/>
<rect x="33.3" y="209.4" width="92.2" height="142.5" fill="none" stroke="#000" stroke-width="1.4"/>
<line x1="33.30" y1="232.90" x2="34.80" y2="232.90" stroke="#000" stroke-width="1.0" />
<text x="32.2" y="236.4" font-size="10" font-weight="bold" fill="#000" text-anchor="end" >2</text>
<line x1="33.30" y1="263.70" x2="34.80" y2="263.70" stroke="#000" stroke-width="1.0" />
<text x="32.2" y="267.2" font-size="10" font-weight="bold" fill="#000" text-anchor="end" >1</text>
<line x1="33.30" y1="294.50" x2="34.80" y2="294.50" stroke="#000" stroke-width="1.0" />
<text x="32.2" y="298.0" font-size="10" font-weight="bold" fill="#000" text-anchor="end" >0</text>
<line x1="33.30" y1="325.30" x2="34.80" y2="325.30" stroke="#000" stroke-width="1.0" />
<text x="32.2" y="328.8" font-size="10" font-weight="bold" fill="#000" text-anchor="end" >-1</text>
<line x1="46.60" y1="351.90" x2="46.60" y2="350.40" stroke="#000" stroke-width="1.0" />
<text x="46.6" y="361.6" font-size="10" font-weight="bold" fill="#000" text-anchor="middle" >0</text>
<line x1="72.84" y1="351.90" x2="72.84" y2="350.40" stroke="#000" stroke-width="1.0" />
<text x="72.84" y="361.6" font-size="10" font-weight="bold" fill="#000" text-anchor="middle" >2</text>
<line x1="99.08" y1="351.90" x2="99.08" y2="350.40" stroke="#000" stroke-width="1.0" />
<text x="99.08" y="361.6" font-size="10" font-weight="bold" fill="#000" text-anchor="middle" >4</text>
<line x1="125.32" y1="351.90" x2="125.32" y2="350.40" stroke="#000" stroke-width="1.0" />
<text x="125.32" y="361.6" font-size="10" font-weight="bold" fill="#000" text-anchor="middle" >6</text>
<line x1="59.72" y1="351.90" x2="59.72" y2="350.90" stroke="#000" stroke-width="0.8" />
<line x1="85.96" y1="351.90" x2="85.96" y2="350.90" stroke="#000" stroke-width="0.8" />
<line x1="112.20" y1="351.90" x2="112.20" y2="350.90" stroke="#000" stroke-width="0.8" />
<text x="53.76" y="379.80" font-size="13.7" font-weight="bold" fill="#000" textLength="52.17" lengthAdjust="spacingAndGlyphs" >Time (s)</text>
<text transform="translate(15.50,305.18) rotate(-90)" x="0" y="0" font-size="13.5" font-weight="bold" fill="#000" textLength="48.86" lengthAdjust="spacingAndGlyphs">R<tspan font-size="9.45" dy="2.97">s</tspan><tspan dy="-2.97"> (mV)</tspan></text>
<line x1="56.00" y1="217.40" x2="68.10" y2="217.40" stroke="#000" stroke-width="0.9" />
<path d="M55.00,217.40 l3,-1.6 l0,3.2 z M69.10,217.40 l-3,-1.6 l0,3.2 z" fill="#000"/>
<text x="47.50" y="228.60" font-size="10.8" font-weight="bold" fill="#000" textLength="31.40" lengthAdjust="spacingAndGlyphs" >t<tspan font-size="7.56" dy="2.38">90</tspan><tspan dy="-2.38">&lt;1 s</tspan></text>
<line x1="79.50" y1="239.50" x2="102.00" y2="239.50" stroke="#7fc3d3" stroke-width="2.4" stroke-linecap="round"/>
<text x="105.3" y="243.1" font-size="10" font-weight="bold" fill="#000" text-anchor="start" >H<tspan font-size="7.2" dy="2.8">2</tspan></text>
<line x1="79.50" y1="254.40" x2="102.00" y2="254.40" stroke="#eab398" stroke-width="2.4" stroke-linecap="round"/>
<text x="105.3" y="258.0" font-size="10" font-weight="bold" fill="#000" text-anchor="start" >He</text>
<line x1="79.50" y1="267.00" x2="102.00" y2="267.00" stroke="#d5472c" stroke-width="2.4" stroke-linecap="round"/>
<text x="105.3" y="270.6" font-size="10" font-weight="bold" fill="#000" text-anchor="start" >Ar</text>
<line x1="79.50" y1="279.40" x2="102.00" y2="279.40" stroke="#3f8ed3" stroke-width="2.4" stroke-linecap="round"/>
<text x="105.3" y="283.0" font-size="10" font-weight="bold" fill="#000" text-anchor="start" >O<tspan font-size="7.2" dy="2.8">2</tspan></text>
<line x1="79.50" y1="293.90" x2="102.00" y2="293.90" stroke="#eecd88" stroke-width="2.4" stroke-linecap="round"/>
<text x="105.3" y="297.5" font-size="10" font-weight="bold" fill="#000" text-anchor="start" >CO<tspan font-size="7.2" dy="2.8">2</tspan></text>
<text x="3.96" y="214.00" font-size="20.5" font-weight="bold" fill="#000" textLength="11.70" lengthAdjust="spacingAndGlyphs" >c</text>
<clipPath id="cd"><rect x="171.1" y="209.4" width="92.4" height="143.0"/></clipPath>
<g clip-path="url(#cd)">
<polyline points="181.70,344.62 183.36,344.52 185.02,344.42 186.69,344.37 188.35,344.40 190.01,344.46 191.68,344.32 193.34,344.40 195.00,344.28 196.54,344.19 198.09,344.29 199.63,344.34 201.18,344.08 202.72,344.21 204.27,344.20 205.81,344.37 207.36,344.39 208.90,344.15 210.80,338.16 212.80,330.62 215.00,319.90 217.60,309.09 219.50,303.85 221.50,300.53 223.25,299.51 225.00,298.65 227.15,298.12 229.30,297.57 230.83,297.55 232.36,297.44 233.89,297.21 235.41,297.36 236.94,297.09 238.47,297.10 240.00,297.31 241.53,297.03 243.06,297.07 244.59,297.08 246.11,297.41 247.64,297.14 249.17,297.10 250.70,297.30" fill="none" stroke="#eecd88" stroke-width="2.0" stroke-linejoin="round" stroke-linecap="round" />
<polyline points="181.70,336.14 183.36,335.87 185.02,336.19 186.69,336.14 188.35,336.23 190.01,336.31 191.68,336.18 193.34,336.29 195.00,336.01 196.54,336.28 198.09,336.16 199.63,336.22 201.18,335.95 202.72,336.19 204.27,336.24 205.81,335.87 207.36,335.95 208.90,336.03 210.80,328.13 212.80,318.80 214.80,310.87 216.70,304.20 218.20,301.05 219.60,299.50 221.30,298.76 223.00,298.15 224.50,298.10 226.00,298.02 227.50,297.98 229.00,297.78 230.50,297.89 232.00,298.01 233.50,297.73 235.00,297.80 236.57,297.54 238.14,297.74 239.71,297.74 241.28,297.69 242.85,297.61 244.42,297.57 245.99,297.62 247.56,297.70 249.13,297.38 250.70,297.50" fill="none" stroke="#d5472c" stroke-width="2.0" stroke-linejoin="round" stroke-linecap="round" />
<polyline points="181.70,308.94 183.36,309.22 185.02,309.32 186.69,309.18 188.35,309.18 190.01,309.31 191.68,309.12 193.34,309.18 195.00,309.18 196.66,309.28 198.31,309.11 199.97,309.03 201.62,309.15 203.28,309.20 204.93,308.89 206.59,308.99 208.24,308.82 209.90,308.94 211.50,307.53 212.80,305.21 214.50,302.39 215.70,300.21 217.50,298.99 219.60,298.45 221.40,298.14 223.20,297.98 225.00,297.73 226.67,297.86 228.33,297.56 230.00,297.85 231.67,297.59 233.33,297.59 235.00,297.49 236.57,297.63 238.14,297.63 239.71,297.52 241.28,297.49 242.85,297.59 244.42,297.64 245.99,297.46 247.56,297.59 249.13,297.68 250.70,297.50" fill="none" stroke="#3f8ed3" stroke-width="2.0" stroke-linejoin="round" stroke-linecap="round" />
<polyline points="182.10,220.59 183.71,220.52 185.32,220.54 186.94,220.76 188.55,220.77 190.16,220.91 191.78,220.89 193.39,220.67 195.00,220.68 196.61,220.65 198.22,220.57 199.84,220.73 201.45,220.74 203.06,220.71 204.68,220.40 206.29,220.60 207.90,220.33 209.50,223.97 210.40,229.69 212.00,244.83 214.10,266.34 215.50,281.13 216.50,289.92 218.00,293.44 220.20,294.83 221.80,295.20 223.40,295.27 225.00,295.73 226.67,295.86 228.33,295.96 230.00,295.93 231.67,296.17 233.33,296.40 235.00,296.26 236.57,296.33 238.14,296.17 239.71,296.24 241.28,296.41 242.85,296.20 244.42,296.51 245.99,296.53 247.56,296.22 249.13,296.57 250.70,296.40" fill="none" stroke="#7fc3d3" stroke-width="2.0" stroke-linejoin="round" stroke-linecap="round" />
<polyline points="182.10,221.65 183.71,221.87 185.32,221.93 186.94,221.81 188.55,222.02 190.16,222.07 191.78,222.20 193.39,222.04 195.00,222.30 196.56,222.33 198.12,222.17 199.69,222.06 201.25,221.85 202.81,221.95 204.38,221.84 205.94,221.94 207.50,221.87 208.80,226.03 210.00,234.87 211.80,252.06 213.50,270.05 215.00,283.87 216.50,291.66 218.50,294.56 220.00,294.90 221.50,295.77 223.20,295.58 224.90,295.77 226.60,296.05 228.30,296.12 230.00,296.22 231.59,296.28 233.18,296.23 234.78,296.19 236.37,296.16 237.96,296.14 239.55,296.42 241.15,296.46 242.74,296.40 244.33,296.50 245.92,296.37 247.52,296.36 249.11,296.43 250.70,296.50" fill="none" stroke="#eab398" stroke-width="2.0" stroke-linejoin="round" stroke-linecap="round" />
</g>
<rect x="209.4" y="209.4" width="6.7" height="143.0" fill="rgba(0,255,250,0.245)"/>
<rect x="171.1" y="209.4" width="92.4" height="143.0" fill="none" stroke="#000" stroke-width="1.4"/>
<line x1="171.10" y1="233.30" x2="172.60" y2="233.30" stroke="#000" stroke-width="1.0" />
<text x="170.0" y="236.79999999999998" font-size="10" font-weight="bold" fill="#000" text-anchor="end" >2</text>
<line x1="171.10" y1="265.00" x2="172.60" y2="265.00" stroke="#000" stroke-width="1.0" />
<text x="170.0" y="268.5" font-size="10" font-weight="bold" fill="#000" text-anchor="end" >1</text>
<line x1="171.10" y1="296.70" x2="172.60" y2="296.70" stroke="#000" stroke-width="1.0" />
<text x="170.0" y="300.2" font-size="10" font-weight="bold" fill="#000" text-anchor="end" >0</text>
<line x1="171.10" y1="328.40" x2="172.60" y2="328.40" stroke="#000" stroke-width="1.0" />
<text x="170.0" y="331.9" font-size="10" font-weight="bold" fill="#000" text-anchor="end" >-1</text>
<line x1="182.30" y1="352.40" x2="182.30" y2="350.90" stroke="#000" stroke-width="1.0" />
<text x="182.3" y="361.9" font-size="10" font-weight="bold" fill="#000" text-anchor="middle" >0</text>
<line x1="205.50" y1="352.40" x2="205.50" y2="350.90" stroke="#000" stroke-width="1.0" />
<text x="205.5" y="361.9" font-size="10" font-weight="bold" fill="#000" text-anchor="middle" >2</text>
<line x1="228.70" y1="352.40" x2="228.70" y2="350.90" stroke="#000" stroke-width="1.0" />
<text x="228.70000000000002" y="361.9" font-size="10" font-weight="bold" fill="#000" text-anchor="middle" >4</text>
<line x1="251.90" y1="352.40" x2="251.90" y2="350.90" stroke="#000" stroke-width="1.0" />
<text x="251.9" y="361.9" font-size="10" font-weight="bold" fill="#000" text-anchor="middle" >6</text>
<line x1="193.90" y1="352.40" x2="193.90" y2="351.40" stroke="#000" stroke-width="0.8" />
<line x1="217.10" y1="352.40" x2="217.10" y2="351.40" stroke="#000" stroke-width="0.8" />
<line x1="240.30" y1="352.40" x2="240.30" y2="351.40" stroke="#000" stroke-width="0.8" />
<text x="191.66" y="380.00" font-size="13.7" font-weight="bold" fill="#000" textLength="51.56" lengthAdjust="spacingAndGlyphs" >Time (s)</text>
<text transform="translate(153.50,305.18) rotate(-90)" x="0" y="0" font-size="13.5" font-weight="bold" fill="#000" textLength="48.86" lengthAdjust="spacingAndGlyphs">R<tspan font-size="9.45" dy="2.97">s</tspan><tspan dy="-2.97"> (mV)</tspan></text>
<line x1="206.50" y1="214.40" x2="216.80" y2="214.40" stroke="#000" stroke-width="0.9" />
<path d="M205.50,214.40 l3,-1.6 l0,3.2 z M217.80,214.40 l-3,-1.6 l0,3.2 z" fill="#000"/>
<text x="217.40" y="221.60" font-size="10.0" font-weight="bold" fill="#000" textLength="39.74" lengthAdjust="spacingAndGlyphs" >t<tspan font-size="7.00" dy="2.20">10</tspan><tspan dy="-2.20">&lt;0.5 s</tspan></text>
<line x1="217.30" y1="230.80" x2="239.10" y2="230.80" stroke="#7fc3d3" stroke-width="2.4" stroke-linecap="round"/>
<text x="243.1" y="234.4" font-size="10" font-weight="bold" fill="#000" text-anchor="start" >H<tspan font-size="7.2" dy="2.8">2</tspan></text>
<line x1="217.30" y1="245.60" x2="239.10" y2="245.60" stroke="#eab398" stroke-width="2.4" stroke-linecap="round"/>
<text x="243.1" y="249.2" font-size="10" font-weight="bold" fill="#000" text-anchor="start" >He</text>
<line x1="217.30" y1="257.90" x2="239.10" y2="257.90" stroke="#d5472c" stroke-width="2.4" stroke-linecap="round"/>
<text x="243.1" y="261.5" font-size="10" font-weight="bold" fill="#000" text-anchor="start" >Ar</text>
<line x1="217.30" y1="271.00" x2="239.10" y2="271.00" stroke="#3f8ed3" stroke-width="2.4" stroke-linecap="round"/>
<text x="243.1" y="274.6" font-size="10" font-weight="bold" fill="#000" text-anchor="start" >O<tspan font-size="7.2" dy="2.8">2</tspan></text>
<line x1="217.30" y1="285.70" x2="239.10" y2="285.70" stroke="#eecd88" stroke-width="2.4" stroke-linecap="round"/>
<text x="243.1" y="289.3" font-size="10" font-weight="bold" fill="#000" text-anchor="start" >CO<tspan font-size="7.2" dy="2.8">2</tspan></text>
<text x="143.93" y="213.10" font-size="20.0" font-weight="bold" fill="#000" textLength="13.31" lengthAdjust="spacingAndGlyphs" >d</text>
<defs>
<linearGradient id="cone" x1="0" y1="0" x2="1" y2="0">
<stop offset="0" stop-color="#e8141a"/><stop offset="0.25" stop-color="#f0622c"/><stop offset="0.55" stop-color="#f5c070"/><stop offset="1" stop-color="#f8f0c0" stop-opacity="0.6"/>
</linearGradient>
<linearGradient id="cyl" x1="0" y1="0" x2="1" y2="0">
<stop offset="0" stop-color="#7085a8"/><stop offset="0.25" stop-color="#a7b8d0"/><stop offset="0.5" stop-color="#93a6c3"/><stop offset="0.8" stop-color="#8398b8"/><stop offset="1" stop-color="#6a7fa0"/>
</linearGradient>
<filter id="blur2" x="-50%" y="-50%" width="200%" height="200%"><feGaussianBlur stdDeviation="2.2"/></filter>
<filter id="blur1" x="-50%" y="-50%" width="200%" height="200%"><feGaussianBlur stdDeviation="0.8"/></filter>
<filter id="blur3" x="-80%" y="-50%" width="260%" height="200%"><feGaussianBlur stdDeviation="3"/></filter>
<linearGradient id="chipg" x1="0" y1="0" x2="1" y2="0"><stop offset="0" stop-color="#f8f8f9"/><stop offset="0.6" stop-color="#ebebee"/><stop offset="1" stop-color="#d8d8dc"/></linearGradient>
</defs>
<path d="M373,247 Q373,243.5 381,243.5 Q393,243.5 393,249 L393,280 L373,280 Z" fill="#999" opacity="0.5" filter="url(#blur2)"/>
<path d="M371.1,250 Q371.1,244.1 380.9,244.1 Q390.7,244.1 390.7,250 L390.7,277.5 Q390.7,279 389,279 L372.8,279 Q371.1,279 371.1,277.5 Z" fill="url(#cyl)"/>
<rect x="378.6" y="243.2" width="5.2" height="2.2" rx="0.8" fill="#2d2f36"/>
<rect x="380.3" y="238.5" width="2.0" height="5.5" fill="#2d2f36"/>
<rect x="381.5" y="240.6" width="3.8" height="1.7" fill="#2d2f36"/>
<ellipse cx="381.0" cy="237.9" rx="4.3" ry="1.6" fill="none" stroke="#2d2f36" stroke-width="1.3"/>
<path d="M386.3,241.4 L421.2,231.6 L421.2,250.5 Z" fill="url(#cone)"/>
<path d="M444,221 L452,234 L437,283 L429,270 Z" fill="#6f6f74" opacity="0.6" filter="url(#blur3)"/>
<path d="M440.6,216.8 L447.4,228.4 L433.4,277.0 L425.8,266.0 Z" fill="url(#chipg)" stroke="#bdbdc2" stroke-width="0.5"/>
<path d="M447.4,228.4 L433.4,277.0 L432.0,275.8 L446.0,227.6 Z" fill="#c4c4c9"/>
<path d="M439.3,222.2 L443.6,229.4 L440.6,238.2 L436.4,231.0 Z" fill="#7a78e2"/>
<path d="M430.2,252.0 L434.6,259.4 L430.8,271.6 L426.4,264.2 Z" fill="#7a78e2"/>
<text x="372.52" y="226.00" font-size="9.6" font-weight="bold" fill="#000" textLength="55.13" lengthAdjust="spacingAndGlyphs" >Gas leakage</text>
<text x="347.38" y="289.50" font-size="9.5" font-weight="bold" fill="#000" textLength="44.47" lengthAdjust="spacingAndGlyphs" >H<tspan font-size="6.65" dy="2.09">2</tspan><tspan dy="-2.09"> source</tspan></text>
<text x="409.01" y="289.50" font-size="9.5" font-weight="bold" fill="#000" textLength="44.39" lengthAdjust="spacingAndGlyphs" >SAW chip</text>
<g>
<polyline points="345.20,329.21 345.96,328.37 346.71,328.96 347.47,328.76 348.22,329.41 348.98,329.03 349.73,329.08 350.49,329.24 351.24,329.47 352.00,329.80 352.74,329.42 353.47,330.05 354.21,329.32 354.95,329.57 355.68,329.47 356.42,329.56 357.15,330.38 357.89,330.40 358.63,329.89 359.36,329.98 360.10,330.31 360.40,318.27 361.40,304.55 362.27,303.41 363.13,302.17 364.00,300.61 364.95,300.44 365.90,299.76 366.50,302.03 366.90,309.48 368.20,318.17 368.93,319.96 369.67,322.28 370.40,323.18 371.22,324.61 372.05,325.28 372.88,325.92 373.70,325.87 374.43,326.24 375.16,326.46 375.89,326.70 376.61,327.27 377.34,327.13 378.07,326.89 378.80,327.70 379.52,327.38 380.24,327.61 380.97,327.85 381.69,327.15 382.41,328.10 383.13,328.08 383.86,327.99 384.58,328.13 385.30,328.16 386.02,327.96 386.74,328.43 387.47,327.99 388.19,328.60 388.91,328.86 389.63,328.74 390.36,328.97 391.08,329.50 391.80,329.53 392.40,317.60 393.70,302.02 394.47,301.27 395.23,300.07 396.00,299.85 396.77,299.61 397.53,299.34 398.30,299.74 398.90,304.47 399.80,310.51 400.57,314.34 401.33,317.38 402.10,320.00 402.88,321.71 403.66,322.35 404.44,323.63 405.22,324.32 406.00,325.26 406.72,325.04 407.44,325.76 408.17,326.11 408.89,326.24 409.61,325.99 410.33,326.55 411.06,326.46 411.78,326.26 412.50,326.40 413.25,326.53 414.00,326.75 414.75,326.80 415.50,327.26 416.25,327.57 417.00,327.48 417.75,327.44 418.50,327.78 419.25,327.50 420.00,327.76 420.71,328.13 421.43,327.78 422.14,327.58 422.86,328.41 423.57,328.26 424.29,327.91 425.00,327.96 425.71,328.18 426.43,328.29 427.14,327.92 427.86,327.72 428.57,327.99 429.29,328.67 430.00,328.01 430.72,328.39 431.45,328.14 432.17,328.19 432.89,328.18 433.62,328.47 434.34,328.25 435.06,328.13 435.79,328.25 436.51,328.35 437.24,328.74 437.96,328.30 438.68,328.30 439.41,328.80 440.13,328.79 440.85,329.15 441.58,328.47 442.30,328.89 442.70,317.89 443.80,301.48 444.53,301.85 445.27,300.36 446.00,299.55 446.70,299.92 447.40,299.53 448.10,299.98 448.80,299.63 449.40,303.59 450.30,310.51 451.03,314.25 451.77,316.75 452.50,320.32 453.20,320.76 453.90,322.08 454.60,322.18 455.30,322.92 456.00,323.74 456.75,324.60 457.50,324.64 458.25,324.58 459.00,324.55 459.75,325.45 460.50,326.02 461.25,325.85 462.00,325.45 462.73,325.55 463.47,325.68 464.20,325.84 464.93,325.76 465.67,325.84 466.40,326.57 467.13,326.91 467.87,326.20 468.60,327.12 469.33,326.64 470.07,327.07 470.80,327.26 471.50,331.98 472.22,330.95 472.94,331.22 473.67,331.52 474.39,331.86 475.11,330.88 475.83,331.07 476.56,331.65 477.28,330.81 478.00,331.08 478.72,331.03 479.44,331.42 480.16,331.70 480.88,330.88 481.60,331.51 482.32,331.52 483.04,331.64 483.76,331.34 484.48,331.76 485.20,331.15 485.60,299.91 486.50,240.50 487.25,238.71 488.00,235.98 489.00,233.75 490.00,231.64 490.95,230.69 491.90,229.02 492.80,232.23 493.40,269.88 494.00,303.29 495.00,308.12 496.40,312.53 497.12,313.25 497.85,315.21 498.57,317.01 499.30,318.40 500.20,318.52 501.10,319.44 502.00,320.88 502.82,320.98 503.65,321.57 504.48,321.88 505.30,321.74 506.08,322.47 506.87,322.52 507.65,322.32 508.43,322.59 509.22,322.50 510.00,323.09 510.71,323.83 511.43,323.02 512.14,323.65 512.85,323.27 513.56,323.36 514.28,324.11 514.99,323.79 515.70,323.70 516.53,323.95 517.37,324.63 518.20,324.69 518.70,326.96 519.30,325.70 519.70,290.51 520.80,236.09 522.00,232.07 523.20,228.81 524.20,229.81 524.60,234.11 525.50,270.32 526.70,297.44 528.00,306.66 529.10,311.95 530.05,313.94 531.00,316.86 531.75,316.82 532.50,317.48 533.25,319.26 534.00,319.17 534.75,320.15 535.50,319.47 536.25,320.10 537.00,320.05 537.75,320.92 538.50,320.90 539.25,321.14 540.00,321.49 540.71,321.69 541.43,321.19 542.14,321.55 542.86,321.45 543.57,321.16 544.29,322.04 545.00,321.85 545.71,322.17 546.43,321.58 547.14,322.03 547.86,322.02 548.57,322.39 549.29,321.76 550.00,322.13 550.80,322.37 551.60,322.00 552.40,322.61 553.20,322.89 554.00,322.63 554.80,322.96 555.40,328.62 555.90,319.69 556.30,259.84 556.90,227.95 557.50,225.72 558.20,228.92 559.00,225.54 559.50,228.69 559.90,239.63 560.50,275.47 561.30,294.55 562.30,305.41 563.40,312.74 564.20,314.12 565.00,316.27 565.77,316.61 566.53,317.24 567.30,318.59 568.20,319.11 569.10,319.73 570.00,319.78 570.78,320.32 571.57,320.13 572.35,321.00 573.13,321.13 573.92,320.65 574.70,321.58 575.44,320.88 576.18,320.91 576.93,321.72 577.67,321.37 578.41,321.75 579.15,322.00 579.89,321.47 580.63,322.37 581.38,321.98 582.12,322.28 582.86,322.30 583.60,322.87 584.35,322.99 585.10,322.60 585.85,322.51 586.60,322.85 587.35,323.09 588.10,322.84 588.85,323.04 589.60,323.82 590.35,323.87 591.10,324.29 591.85,324.41 592.60,324.41 593.40,323.96 594.20,323.83 595.00,324.09 595.50,328.76 596.24,328.77 596.98,328.73 597.72,328.47 598.46,328.95 599.20,328.26 599.60,309.96 600.45,305.28 601.30,300.04 602.10,297.73 602.90,295.92 604.00,298.84 604.80,299.91 605.60,301.99 606.60,301.03 607.50,309.24 608.00,289.63 608.60,239.51 609.20,234.17 610.20,234.50 611.00,235.96 611.60,248.53 612.10,266.11 613.20,301.53 614.00,309.39 614.80,318.45 615.50,319.61 616.20,321.43 616.70,299.82 617.00,278.81 617.80,247.35 618.40,251.55 619.20,279.09 620.30,306.22 621.30,296.33 622.00,280.91 622.80,303.74 623.50,282.50 624.20,298.92 624.90,277.14 625.60,296.19 626.30,280.45 627.00,293.34 627.70,272.72 628.40,289.60 629.10,270.78 629.80,288.32 630.50,280.01 631.20,270.36 631.80,236.06 632.50,230.76 633.25,230.54 634.00,230.27 634.70,233.16 635.20,255.44 635.50,279.75 636.00,290.16 636.80,282.18 637.40,270.27 638.10,280.35 638.80,290.31 639.50,283.91 640.10,287.52 640.80,292.64 641.50,295.35 642.50,291.20 643.30,297.54 644.20,294.35 645.20,297.90 646.40,303.64 647.20,307.85 648.00,312.33 648.75,314.95 649.50,318.51 650.40,319.87 651.30,322.30 652.20,323.52 653.10,324.40 654.00,325.89 654.75,326.19 655.50,326.62 656.25,326.60 657.00,326.28 657.75,327.06 658.50,327.20 659.25,327.31 660.00,327.26 660.80,328.16 661.60,328.82 662.40,328.80" fill="none" stroke="#4d67a2" stroke-width="1.3" stroke-linejoin="round" stroke-linecap="round" />
</g>
<line x1="471.5" y1="209.8" x2="471.5" y2="352.0" stroke="#e2409a" stroke-width="1.1" stroke-dasharray="4.5,2.5"/>
<line x1="595.5" y1="209.8" x2="595.5" y2="352.0" stroke="#e2409a" stroke-width="1.1" stroke-dasharray="4.5,2.5"/>
<text x="352.86" y="342.60" font-size="10.6" font-weight="bold" fill="#000" textLength="85.20" lengthAdjust="spacingAndGlyphs" >40 v/v% H<tspan font-size="7.42" dy="2.33">2</tspan><tspan dy="-2.33"> leakage</tspan></text>
<text x="487.59" y="342.60" font-size="10.6" font-weight="bold" fill="#000" textLength="89.46" lengthAdjust="spacingAndGlyphs" >100 v/v% H<tspan font-size="7.42" dy="2.33">2</tspan><tspan dy="-2.33"> leakage</tspan></text>
<text x="590.99" y="342.20" font-size="10.6" font-weight="bold" fill="#000" textLength="50.48" lengthAdjust="spacingAndGlyphs" >Random H<tspan font-size="7.42" dy="2.33">2</tspan></text>
<text x="646.33" y="342.20" font-size="10.6" font-weight="bold" fill="#000" textLength="34.89" lengthAdjust="spacingAndGlyphs" >leakage</text>
<rect x="330.5" y="209.8" width="351.6" height="142.2" fill="none" stroke="#000" stroke-width="1.35"/>
<line x1="330.50" y1="351.61" x2="335.00" y2="351.61" stroke="#000" stroke-width="1.0" />
<text x="325.4" y="355.31" font-size="10.5" font-weight="bold" fill="#000" text-anchor="end" >-10</text>
<line x1="330.50" y1="341.46" x2="333.00" y2="341.46" stroke="#000" stroke-width="1.0" />
<line x1="330.50" y1="331.30" x2="335.00" y2="331.30" stroke="#000" stroke-width="1.0" />
<text x="325.4" y="335.0" font-size="10.5" font-weight="bold" fill="#000" text-anchor="end" >0</text>
<line x1="330.50" y1="321.14" x2="333.00" y2="321.14" stroke="#000" stroke-width="1.0" />
<line x1="330.50" y1="310.99" x2="335.00" y2="310.99" stroke="#000" stroke-width="1.0" />
<text x="325.4" y="314.69" font-size="10.5" font-weight="bold" fill="#000" text-anchor="end" >10</text>
<line x1="330.50" y1="300.84" x2="333.00" y2="300.84" stroke="#000" stroke-width="1.0" />
<line x1="330.50" y1="290.68" x2="335.00" y2="290.68" stroke="#000" stroke-width="1.0" />
<text x="325.4" y="294.38" font-size="10.5" font-weight="bold" fill="#000" text-anchor="end" >20</text>
<line x1="330.50" y1="280.52" x2="333.00" y2="280.52" stroke="#000" stroke-width="1.0" />
<line x1="330.50" y1="270.37" x2="335.00" y2="270.37" stroke="#000" stroke-width="1.0" />
<text x="325.4" y="274.07" font-size="10.5" font-weight="bold" fill="#000" text-anchor="end" >30</text>
<line x1="330.50" y1="260.22" x2="333.00" y2="260.22" stroke="#000" stroke-width="1.0" />
<line x1="330.50" y1="250.06" x2="335.00" y2="250.06" stroke="#000" stroke-width="1.0" />
<text x="325.4" y="253.76" font-size="10.5" font-weight="bold" fill="#000" text-anchor="end" >40</text>
<line x1="330.50" y1="239.91" x2="333.00" y2="239.91" stroke="#000" stroke-width="1.0" />
<line x1="330.50" y1="229.75" x2="335.00" y2="229.75" stroke="#000" stroke-width="1.0" />
<text x="325.4" y="233.45" font-size="10.5" font-weight="bold" fill="#000" text-anchor="end" >50</text>
<line x1="330.50" y1="219.59" x2="333.00" y2="219.59" stroke="#000" stroke-width="1.0" />
<line x1="330.50" y1="209.44" x2="335.00" y2="209.44" stroke="#000" stroke-width="1.0" />
<text x="325.4" y="213.14" font-size="10.5" font-weight="bold" fill="#000" text-anchor="end" >60</text>
<line x1="345.90" y1="352.00" x2="345.90" y2="356.00" stroke="#000" stroke-width="1.0" />
<text x="345.9" y="369.6" font-size="10.3" font-weight="bold" fill="#000" text-anchor="middle" >0</text>
<line x1="371.74" y1="352.00" x2="371.74" y2="354.00" stroke="#000" stroke-width="1.0" />
<line x1="397.57" y1="352.00" x2="397.57" y2="356.00" stroke="#000" stroke-width="1.0" />
<text x="397.575" y="369.6" font-size="10.3" font-weight="bold" fill="#000" text-anchor="middle" >50</text>
<line x1="423.41" y1="352.00" x2="423.41" y2="354.00" stroke="#000" stroke-width="1.0" />
<line x1="449.25" y1="352.00" x2="449.25" y2="356.00" stroke="#000" stroke-width="1.0" />
<text x="449.25" y="369.6" font-size="10.3" font-weight="bold" fill="#000" text-anchor="middle" >100</text>
<line x1="475.09" y1="352.00" x2="475.09" y2="354.00" stroke="#000" stroke-width="1.0" />
<line x1="500.92" y1="352.00" x2="500.92" y2="356.00" stroke="#000" stroke-width="1.0" />
<text x="500.92499999999995" y="369.6" font-size="10.3" font-weight="bold" fill="#000" text-anchor="middle" >150</text>
<line x1="526.76" y1="352.00" x2="526.76" y2="354.00" stroke="#000" stroke-width="1.0" />
<line x1="552.60" y1="352.00" x2="552.60" y2="356.00" stroke="#000" stroke-width="1.0" />
<text x="552.6" y="369.6" font-size="10.3" font-weight="bold" fill="#000" text-anchor="middle" >200</text>
<line x1="578.44" y1="352.00" x2="578.44" y2="354.00" stroke="#000" stroke-width="1.0" />
<line x1="604.27" y1="352.00" x2="604.27" y2="356.00" stroke="#000" stroke-width="1.0" />
<text x="604.275" y="369.6" font-size="10.3" font-weight="bold" fill="#000" text-anchor="middle" >250</text>
<line x1="630.11" y1="352.00" x2="630.11" y2="354.00" stroke="#000" stroke-width="1.0" />
<line x1="655.95" y1="352.00" x2="655.95" y2="356.00" stroke="#000" stroke-width="1.0" />
<text x="655.95" y="369.6" font-size="10.3" font-weight="bold" fill="#000" text-anchor="middle" >300</text>
<line x1="681.79" y1="352.00" x2="681.79" y2="354.00" stroke="#000" stroke-width="1.0" />
<text x="482.67" y="380.70" font-size="13.7" font-weight="bold" fill="#000" textLength="48.92" lengthAdjust="spacingAndGlyphs" >Time (s)</text>
<text transform="translate(305.60,351.87) rotate(-90)" x="0" y="0" font-size="14.0" font-weight="bold" fill="#000" textLength="142.02" lengthAdjust="spacingAndGlyphs">Concentration (v/v%)</text>
<text x="281.54" y="213.40" font-size="20.5" font-weight="bold" fill="#000" textLength="11.93" lengthAdjust="spacingAndGlyphs" >e</text>
</svg></body></html>
